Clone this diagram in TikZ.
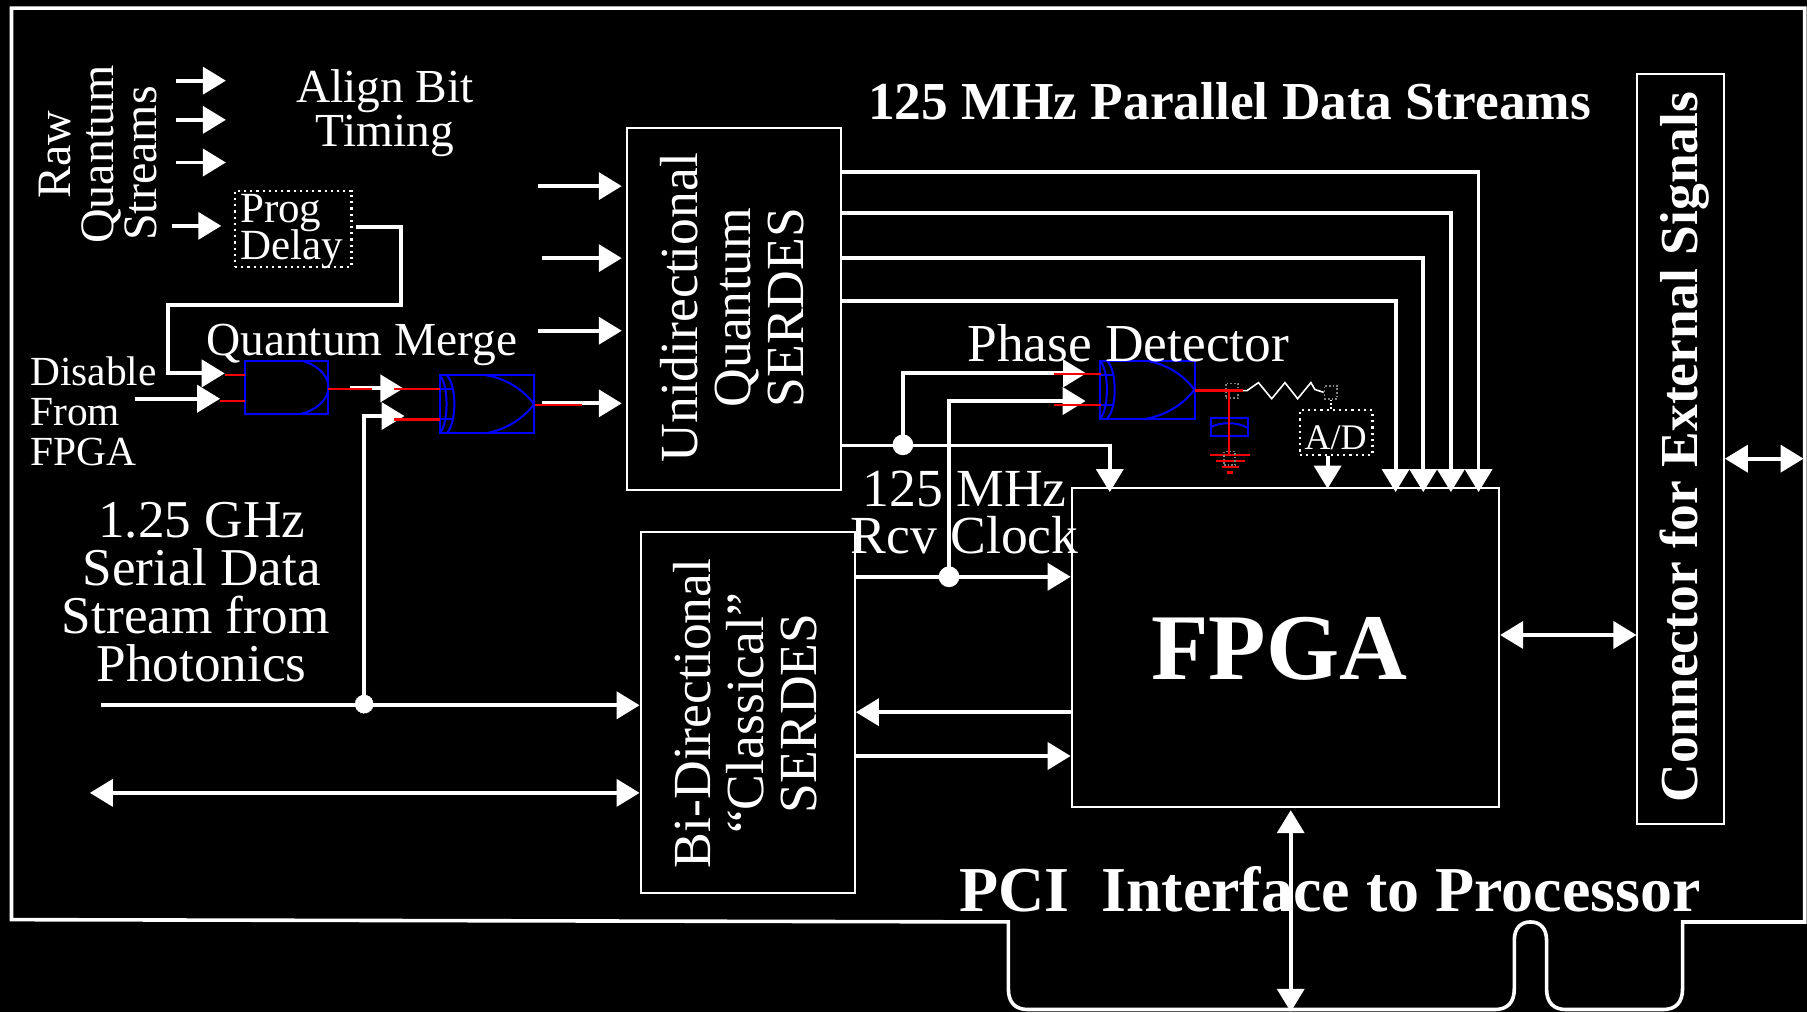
\documentclass[tikz,border=0pt]{standalone}
\usepackage{fontspec}
\setmainfont{Liberation Serif}
\usetikzlibrary{arrows.meta}
\newdimen\U \U=0.5762pt
\newcommand{\fs}[2]{\fontsize{#1}{#2}\selectfont\lineskiplimit=-60pt\relax}
\definecolor{gateblue}{RGB}{0,0,255}
\definecolor{wirered}{RGB}{245,0,0}
\tikzset{
  x=0.5762pt,y=-0.5762pt,
  wire/.style={draw=white,line width=1.9pt,line join=miter},
  arrowwire/.style={wire,-{Triangle[length=11.5pt,width=13.5pt]}},
  bothwire/.style={wire,{Triangle[length=11.5pt,width=13.5pt]}-{Triangle[length=11.5pt,width=13.5pt]}},
  blockbox/.style={draw=white,line width=1pt,inner sep=0pt,anchor=north west},
  dotbox/.style={draw=white,line width=1.1pt,dotted,inner sep=0pt,anchor=north west},
  label/.style={text=white,inner sep=0pt,align=center},
  gateline/.style={draw=gateblue,line width=1pt},
  redwire/.style={draw=wirered,line width=1.2pt},
  solder/.style={draw=gray,line width=0.8pt,densely dotted,inner sep=0pt,anchor=north west},
  jdot/.style={circle,fill=white,inner sep=0pt,minimum size=18\U},
  pics/andgate/.style={code={
    \draw[gateline] (0,0) rectangle (72,46);
    \draw[gateline] (49,0) .. controls (63,4) and (72,13) .. (72,23) .. controls (72,33) and (63,42) .. (49,46);
  }},
  pics/xorgate/.style={code={
    \draw[gateline] (0,0) rectangle (82,50.4);
    \draw[gateline] (0,0) .. controls (8,8) and (8,42) .. (0,50.4);
    \draw[gateline] (6,0) .. controls (15,8) and (15,42) .. (6,50.4);
    \draw[gateline] (40,0) .. controls (58,3) and (72,12) .. (82,25.2) .. controls (72,38) and (58,47) .. (40,50.4);
    \draw[gateline] (0,12) -- (11,12) (0,38.4) -- (11,38.4);
  }},
}
\begin{document}
\begin{tikzpicture}
\useasboundingbox (0,0) rectangle (1568,878.2);
\fill[black] (0,0) rectangle (1568,878.2);

% board outline
\draw[draw=white,line width=1.8pt,line join=miter]
  (1566,7) -- (10,7) -- (10,798) -- (875,800) -- (875,858)
  .. controls (875,870) and (881,876) .. (892,876) -- (1297,876)
  .. controls (1308,876) and (1314,870) .. (1314,858) -- (1314,816)
  .. controls (1314,805) and (1320,800) .. (1328,800)
  .. controls (1336,800) and (1342,805) .. (1342,816) -- (1342,858)
  .. controls (1342,870) and (1348,876) .. (1359,876) -- (1443,876)
  .. controls (1454,876) and (1460,870) .. (1460,858) -- (1460,800) -- (1566,800) -- cycle;

% blocks
\node[blockbox,minimum width=186\U,minimum height=314\U] (uni) at (543,110) {};
\node[blockbox,minimum width=186\U,minimum height=313\U] (bidir) at (555,461) {};
\node[blockbox,minimum width=371\U,minimum height=276\U] (fpga) at (929,423) {};
\node[blockbox,minimum width=75\U,minimum height=651\U] (conn) at (1420,63) {};
\node[dotbox,minimum width=101\U,minimum height=66\U] (delay) at (203,164.5) {};
\node[dotbox,minimum width=63\U,minimum height=39\U] (adc) at (1127,355) {};

% gates
\pic at (213,313) {andgate};
\pic at (381.5,325.6) {xorgate};
\pic at (954.5,313) {xorgate};

% RC filter
\node[solder,minimum width=10.5\U,minimum height=12.5\U] (padA) at (1063,332) {};
\node[solder,minimum width=11\U,minimum height=11.5\U] (padB) at (1148.6,334) {};
\node[draw=gateblue,line width=1pt,inner sep=0pt,anchor=north west,minimum width=32\U,minimum height=16\U] (cap) at (1050,361.6) {};
\draw[gateline] (1050,371) .. controls (1058,366) and (1074,366) .. (1082,371);
\draw[white,line width=0.8pt] (padA.east) -- (1082,339) -- (1092,332) -- (1103.5,346) -- (1115,332) -- (1126,346) -- (1137.5,332) -- (1141,338) -- (padB.west);
\draw[white,line width=0.8pt,densely dotted] (padB.south) -- (adc.north -| padB.south);

% raw stream arrows
\coordinate (r1a) at (153,70); \coordinate (r1b) at (196,70);
\coordinate (r2a) at (153,104); \coordinate (r2b) at (196,104);
\coordinate (r3a) at (153,141); \coordinate (r3b) at (196,141);
\coordinate (r4a) at (149,196); \coordinate (r4b) at (192,196);
\draw[arrowwire] (r1a) -- (r1b);
\draw[arrowwire] (r2a) -- (r2b);
\draw[arrowwire] (r3a) -- (r3b);
\draw[arrowwire] (r4a) -- (r4b);

% delay to AND gate
\coordinate (dOut) at (309,197);
\coordinate (dCorner) at (348,264.5);
\coordinate (andA) at (195,324);
\coordinate (andB) at (191,346);
\coordinate (disIn) at (117,346);
\draw[arrowwire] (dOut) -- (348,197) -- (dCorner) -- (146,264.5) -- (146,324) -- (andA);
\draw[arrowwire] (disIn) -- (andB);
\coordinate (xorA) at (350,337);
\coordinate (xorB) at (351,361);
\coordinate (andOut) at (304,337);
\draw[arrowwire] (andOut) -- (xorA);
\node[circle,fill=white,draw=white,densely dotted,inner sep=0pt,minimum size=16\U] (split) at (316,611) {};
\draw[arrowwire] (split.center) -- (316,361) -- (xorB);

% inputs to unidirectional
\coordinate (u1) at (467,161.5);
\coordinate (u2) at (470,224);
\coordinate (u3) at (467,287);
\coordinate (u4) at (470,350);
\draw[arrowwire,shorten >=2pt] (u1) -- (uni.west |- u1);
\draw[arrowwire,shorten >=2pt] (u2) -- (uni.west |- u2);
\draw[arrowwire,shorten >=2pt] (u3) -- (uni.west |- u3);
\draw[arrowwire,shorten >=2pt] (u4) -- (uni.west |- u4);

% parallel data streams
\draw[arrowwire] (uni.east |- 0,149) -| (1283,427);
\draw[arrowwire] (uni.east |- 0,185) -| (1259,427);
\draw[arrowwire] (uni.east |- 0,224) -| (1235,427);
\draw[arrowwire] (uni.east |- 0,261) -| (1211,427);

% receive clock
\draw[arrowwire] (uni.east |- 0,386.5) -| (963,427);
\node[jdot] (clkA) at (783.5,386) {};
\node[jdot] (clkB) at (823.5,500.5) {};
\coordinate (pdA) at (942.5,324);
\coordinate (pdB) at (942,348);
\draw[arrowwire] (clkA.center) -- (783.5,324) -- (pdA);
\draw[arrowwire] (clkB.center) -- (823.5,348) -- (pdB);
\draw[arrowwire] (bidir.east |- clkB) -- (fpga.west |- clkB);

% A/D to FPGA
\draw[arrowwire] (adc.south -| 1152,0) -- (1152,424);

% serial data
\coordinate (serIn) at (88,612);
\draw[arrowwire] (serIn) -- (bidir.west |- serIn);
\coordinate (bidirL) at (78,688);
\draw[bothwire] (bidirL) -- (bidir.west |- bidirL);
\coordinate (f1) at (742,618);
\coordinate (f2) at (742,656);
\draw[arrowwire] (fpga.west |- f1) -- (bidir.east |- f1);
\draw[arrowwire] (bidir.east |- f2) -- (fpga.west |- f2);

% FPGA side links
\coordinate (fc) at (1301,551);
\draw[bothwire] (fpga.east |- fc) -- (conn.west |- fc);
\coordinate (ext) at (1565,398);
\draw[bothwire] (conn.east |- ext) -- (ext);
\coordinate (pciB) at (1120,878);
\draw[bothwire] (1120,703) -- (pciB);

% red stubs and leads, on top of the arrows
\draw[redwire] (195,325.6) -- (213,325.6) (191,348) -- (213,348);
\draw[redwire] (285,337.7) -- (323,337.7) (342,337.7) -- (382,337.7) (342,364) -- (382,364);
\draw[redwire] (464,351.6) -- (505,351.6) (914.6,351.4) -- (955,351.4);
\draw[redwire] (914.6,324.7) -- (955,324.7);
\draw[redwire] (1037,339) -- (1078.6,339);
\draw[redwire] (1066.6,339) -- (1066.6,395);
\draw[redwire] (1050,394.8) -- (1085,394.8) (1055.5,400) -- (1080,400) (1060,405) -- (1075,405) (1064.5,410) -- (1070,410);
\node[solder,minimum width=9.5\U,minimum height=12\U] (padC) at (1061.6,391) {};

% labels
\node[label,rotate=90,font=\fs{24}{21.3}] (raw) at (85,134) {Raw\\Quantum\\Streams\kern9pt};
\node[label,font=\fs{23.7}{21.9}] (align) at (334,98.5) {Align Bit\\Timing};
\node[label,align=left,font=\fs{21.5}{18.4}] (prog) at (253,201) {Prog\\Delay};
\node[label,font=\fs{23.7}{24}] (merge) at (314,299) {Quantum Merge};
\node[label,align=left,anchor=west,font=\fs{20.7}{20}] (disable) at (26,357) {Disable\\From\\FPGA};
\node[label,font=\fs{26.6}{24}] (serial) at (175,514) {1.25 GHz\\Serial Data\\Stream from\kern6pt\\Photonics};
\node[label,rotate=90,font=\fs{26.8}{26.5}] (unit) at (635,267) {Unidirectional\\Quantum\\SERDES};
\node[label,rotate=90,font=\fs{26.8}{26.5}] (bidt) at (647,619) {Bi-Directional\\“Classical”\\SERDES};
\node[label,font=\fs{26.8}{23.6}] (rcv) at (837,445) {125 MHz\\Rcv Clock};
\node[label,font=\fs{26.7}{27}] (phase) at (979,298) {Phase Detector};
\node[label,font=\fs{18}{18}] (adt) at (1159,380) {A/D};
\node[label,font=\bfseries\fs{26.7}{27}] (par) at (1067,88) {125 MHz Parallel Data Streams};
\node[label,rotate=90,font=\bfseries\fs{26.7}{27}] (cont) at (1461.5,388) {Connector for External Signals};
\node[label,font=\bfseries\fs{47}{47}] (fpt) at (1110,563) {FPGA};
\node[label,font=\bfseries\fs{32}{32}] (pci) at (1154,771.5) {PCI~~Interface to Processor};
\end{tikzpicture}
\end{document}
